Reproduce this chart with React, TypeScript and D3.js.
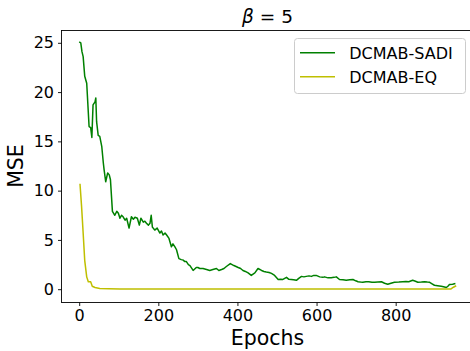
import { useEffect, useRef } from 'react';
import * as d3 from 'd3';

// DCMAB-SADI (green)
const sadiEpochs = [0, 4, 7, 10, 14, 19, 25, 29, 32, 35, 40, 42, 44, 48, 52, 57, 61, 63, 67, 72, 76, 79, 84, 90, 95, 99, 103, 107, 111, 116, 120, 126, 132, 137, 141, 147, 152, 156, 162, 166, 170, 175, 179, 182, 185, 191, 197, 204, 208, 212, 217, 221, 227, 233, 237, 242, 246, 252, 258, 263, 267, 271, 276, 280, 288, 296, 300, 305, 313, 322, 330, 338, 347, 353, 360, 366, 372, 382, 391, 402, 408, 414, 420, 427, 435, 444, 452, 461, 467, 473, 480, 486, 494, 503, 509, 515, 524, 530, 536, 542, 549, 555, 562, 568, 574, 581, 587, 593, 599, 608, 616, 620, 629, 637, 644, 650, 658, 667, 675, 684, 692, 699, 705, 711, 717, 725, 732, 740, 747, 755, 764, 772, 780, 788, 797, 808, 818, 826, 833, 843, 850, 856, 865, 873, 880, 886, 892, 898, 906, 915, 921, 928, 932, 936, 944, 951];
const sadiValues = [25.1, 25.0, 24.1, 23.6, 21.6, 20.9, 16.5, 16.4, 15.4, 18.7, 19.0, 19.4, 17.0, 15.6, 15.5, 14.5, 12.8, 12.1, 10.9, 11.8, 11.6, 11.1, 7.9, 7.5, 7.9, 7.7, 7.2, 7.5, 7.35, 7.0, 7.2, 6.2, 7.35, 7.1, 7.3, 7.2, 6.5, 7.2, 6.8, 6.9, 6.7, 6.5, 6.7, 7.5, 6.3, 6.0, 6.2, 5.7, 5.9, 5.5, 5.7, 5.5, 5.15, 4.3, 4.6, 4.3, 4.0, 3.1, 3.0, 2.95, 2.8, 2.8, 2.5, 2.4, 1.9, 2.2, 2.2, 2.1, 2.1, 2.0, 1.9, 2.0, 2.1, 1.9, 2.0, 2.1, 2.3, 2.6, 2.4, 2.2, 2.1, 1.9, 1.8, 1.65, 1.4, 1.65, 2.1, 1.9, 1.8, 1.75, 1.7, 1.6, 1.4, 0.99, 1.0, 0.99, 1.2, 1.0, 0.99, 0.95, 0.9, 1.1, 1.3, 1.25, 1.3, 1.35, 1.3, 1.4, 1.4, 1.25, 1.2, 1.25, 1.15, 1.15, 1.2, 1.25, 0.98, 0.95, 0.9, 0.95, 0.98, 0.85, 0.75, 0.72, 0.7, 0.75, 0.75, 0.7, 0.7, 0.72, 0.75, 0.6, 0.5, 0.6, 0.7, 0.72, 0.75, 0.78, 0.75, 0.9, 0.8, 0.7, 0.72, 0.75, 0.72, 0.7, 0.55, 0.4, 0.35, 0.3, 0.25, 0.17, 0.3, 0.48, 0.5, 0.58];

// DCMAB-EQ (yellow)
const eqEpochs = [2, 6, 10, 14, 19, 23, 29, 33, 40, 52, 75, 103, 300, 600, 800, 940, 946, 953];
const eqValues = [10.7, 8.4, 5.7, 2.9, 1.25, 0.75, 0.75, 0.3, 0.17, 0.07, 0.05, 0.03, 0.03, 0.03, 0.03, 0.03, 0.2, 0.35];

const xTicks = [0, 200, 400, 600, 800];
const yTicks = [0, 5, 10, 15, 20, 25];
const seriesNames = ['DCMAB-SADI', 'DCMAB-EQ'];
const seriesColors = ['#008000', '#bfbf00'];

const FONT = '"DejaVu Sans", sans-serif';

export default function App() {
  const chartRef = useRef<SVGSVGElement>(null);

  useEffect(() => {
    const width = 470;
    const height = 351;
    const plot = { left: 61, top: 30, right: 474, bottom: 302 };

    const svg = d3.select(chartRef.current);
    svg.selectAll('*').remove();
    svg.attr('width', width).attr('height', height);

    const x = d3.scaleLinear().domain([-46, 998]).range([plot.left, plot.right]);
    const y = d3.scaleLinear().domain([-1.3, 26.3]).range([plot.bottom, plot.top]);

    svg.append('rect').attr('width', width).attr('height', height).attr('fill', 'white');

    // lines
    const line = d3.line<[number, number]>()
      .x(d => x(d[0]))
      .y(d => y(d[1]));

    const sadi: [number, number][] = sadiEpochs.map((e, i) => [e, sadiValues[i]]);
    const eq: [number, number][] = eqEpochs.map((e, i) => [e, eqValues[i]]);

    [sadi, eq].forEach((pts, i) => {
      svg.append('path')
        .datum(pts)
        .attr('d', line)
        .attr('fill', 'none')
        .attr('stroke', seriesColors[i])
        .attr('stroke-width', 1.5)
        .attr('stroke-linejoin', 'round');
    });

    // spines
    const spine = svg.append('g').attr('stroke', '#000').attr('stroke-width', 0.9);
    spine.append('line').attr('x1', plot.left + 0.5).attr('x2', plot.left + 0.5).attr('y1', plot.top).attr('y2', plot.bottom);
    spine.append('line').attr('x1', plot.left).attr('x2', width).attr('y1', plot.bottom + 0.5).attr('y2', plot.bottom + 0.5);
    spine.append('line').attr('x1', plot.left).attr('x2', width).attr('y1', plot.top + 0.5).attr('y2', plot.top + 0.5);

    // x axis
    const xAxis = svg.append('g')
      .attr('transform', `translate(0,${plot.bottom + 0.5})`)
      .call(d3.axisBottom(x).tickValues(xTicks).tickSize(3.5).tickPadding(4).tickFormat(d3.format('d')));
    xAxis.select('.domain').remove();
    xAxis.selectAll('text').attr('font-family', FONT).attr('font-size', 16).attr('fill', '#000');
    xAxis.selectAll('line').attr('stroke', '#000').attr('stroke-width', 0.9);

    // y axis
    const yAxis = svg.append('g')
      .attr('transform', `translate(${plot.left + 0.5},0)`)
      .call(d3.axisLeft(y).tickValues(yTicks).tickSize(3.5).tickPadding(4).tickFormat(d3.format('d')));
    yAxis.select('.domain').remove();
    yAxis.selectAll('text').attr('font-family', FONT).attr('font-size', 16).attr('fill', '#000');
    yAxis.selectAll('line').attr('stroke', '#000').attr('stroke-width', 0.9);

    // axis labels
    svg.append('text')
      .attr('x', (plot.left + plot.right) / 2)
      .attr('y', 345)
      .attr('text-anchor', 'middle')
      .attr('font-family', FONT)
      .attr('font-size', 20.5)
      .text('Epochs');

    svg.append('text')
      .attr('transform', `translate(22.7,${(plot.top + plot.bottom) / 2}) rotate(-90)`)
      .attr('text-anchor', 'middle')
      .attr('font-family', FONT)
      .attr('font-size', 20.5)
      .text('MSE');

    // title
    const title = svg.append('text')
      .attr('x', (plot.left + plot.right) / 2)
      .attr('y', 23.3)
      .attr('text-anchor', 'middle')
      .attr('font-family', FONT)
      .attr('font-size', 18.5);
    title.append('tspan').attr('font-style', 'italic').text('β');
    title.append('tspan').text(' = 5');

    // legend
    const legend = svg.append('g');
    legend.append('rect')
      .attr('x', 294.5).attr('y', 38.5)
      .attr('width', 171).attr('height', 55)
      .attr('rx', 3)
      .attr('fill', 'white').attr('fill-opacity', 0.8)
      .attr('stroke', '#cccccc').attr('stroke-width', 1);

    seriesNames.forEach((name, i) => {
      const ly = 52.7 + i * 24;
      legend.append('line')
        .attr('x1', 300).attr('x2', 335)
        .attr('y1', ly).attr('y2', ly)
        .attr('stroke', seriesColors[i]).attr('stroke-width', 1.5);
      legend.append('text')
        .attr('x', 349.3).attr('y', ly + 5.8)
        .attr('font-family', FONT).attr('font-size', 16)
        .text(name);
    });
  }, []);

  return (
    <div style={{ position: 'absolute', left: 0, top: 0 }}>
      <svg ref={chartRef} style={{ display: 'block' }}></svg>
    </div>
  );
}
